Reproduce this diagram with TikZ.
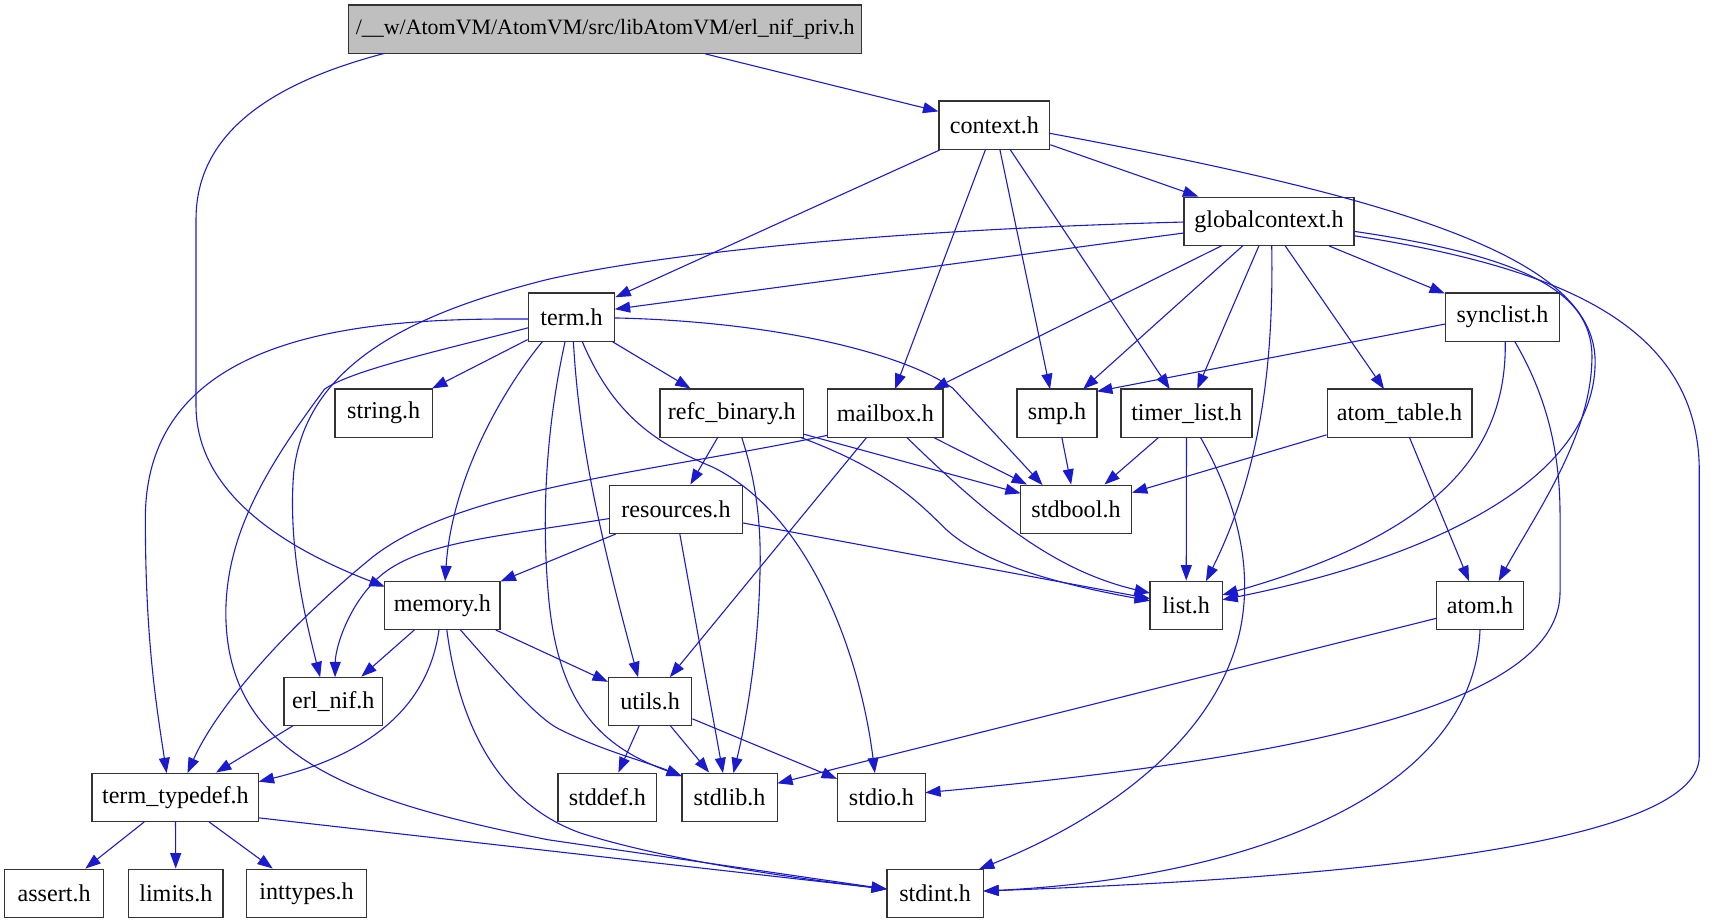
\documentclass[tikz,border=0pt]{standalone}
\usepackage{fontspec}
\setmainfont{Liberation Serif}
\usetikzlibrary{arrows.meta,calc}
\definecolor{edgeblue}{RGB}{26,26,206}
\definecolor{rootgray}{RGB}{191,191,191}
\begin{document}
\begin{tikzpicture}[x=0.5pt,y=-0.5pt,
  hbox/.style={draw=black!80, line width=0.55pt, fill=white, rectangle, minimum height=22pt, inner sep=0pt, font=\fontsize{11}{13}\selectfont},
  dep/.style={draw=edgeblue, line width=0.5pt, -{Triangle[length=7pt,width=5pt]}}]
\useasboundingbox (0,0) rectangle (1568,842);
% nodes
\node[hbox, fill=rootgray, minimum width=234pt, font=\fontsize{10}{12}\selectfont] (root) at (552,26.6) {/\_\_w/AtomVM/AtomVM/src/libAtomVM/erl\_nif\_priv.h};
\node[hbox, minimum width=50.5pt] (context) at (907,114.2) {context.h};
\node[hbox, minimum width=77.5pt] (gc) at (1157.5,201.8) {globalcontext.h};
\node[hbox, minimum width=39.5pt] (term) at (521.3,289.3) {term.h};
\node[hbox, minimum width=52pt] (synclist) at (1370.5,289.3) {synclist.h};
\node[hbox, minimum width=44.5pt] (string) at (350,376.9) {string.h};
\node[hbox, minimum width=65.5pt] (refc) at (667.5,376.9) {refc\_binary.h};
\node[hbox, minimum width=52.5pt] (mailbox) at (807.6,376.9) {mailbox.h};
\node[hbox, minimum width=36.5pt] (smp) at (964.2,376.9) {smp.h};
\node[hbox, minimum width=59.75pt] (timer) at (1082.3,376.9) {timer\_list.h};
\node[hbox, minimum width=66pt] (atomtable) at (1276.6,376.9) {atom\_table.h};
\node[hbox, minimum width=61pt] (resources) at (616.6,464.5) {resources.h};
\node[hbox, minimum width=50.5pt] (stdbool) at (981.5,464.5) {stdbool.h};
\node[hbox, minimum width=52.5pt] (memory) at (403.5,552.1) {memory.h};
\node[hbox, minimum width=33pt] (list) at (1082,552.1) {list.h};
\node[hbox, minimum width=40pt] (atom) at (1350,552.1) {atom.h};
\node[hbox, minimum width=45pt] (erlnif) at (304,639.7) {erl\_nif.h};
\node[hbox, minimum width=38pt] (utils) at (593,639.7) {utils.h};
\node[hbox, minimum width=76pt] (typedef) at (160,727.2) {term\_typedef.h};
\node[hbox, minimum width=45pt] (stddef) at (554,727.2) {stddef.h};
\node[hbox, minimum width=43.5pt] (stdlib) at (665.5,727.2) {stdlib.h};
\node[hbox, minimum width=40pt] (stdio) at (804,727.2) {stdio.h};
\node[hbox, minimum width=45pt] (assert) at (49.4,814.8) {assert.h};
\node[hbox, minimum width=43pt] (limits) at (160.4,814.8) {limits.h};
\node[hbox, minimum width=54.5pt] (inttypes) at (279.6,814.8) {inttypes.h};
\node[hbox, minimum width=44pt] (stdint) at (853,814.8) {stdint.h};
% root
\draw[dep] (root) -- (context);
\draw[dep] ($(root)+(-201,22)$) .. controls (250,75) and (178.8,120) .. (178.8,200) -- (178.8,370) .. controls (178.8,450) and (260,500) .. ($(memory)+(-52.5,-17)$);
% context
\draw[dep] (context) -- (gc);
\draw[dep] (context) -- (term);
\draw[dep] ($(context)+(-8,22)$) -- ($(mailbox)+(8.8,-22)$);
\draw[dep] ($(context)+(5,22)$) -- ($(smp)+(-6.4,-22)$);
\draw[dep] ($(context)+(14.3,22)$) -- ($(timer)+(-15.3,-22)$);
\draw[dep] ($(context)+(50.5,7.4)$) .. controls (1300,185) and (1455,240) .. (1455,330) .. controls (1455,440) and (1300,510) .. ($(list)+(33,-5)$);
% globalcontext
\draw[dep] ($(gc)+(-77.5,10.7)$) -- ($(term)+(39.5,-7.3)$);
\draw[dep] ($(gc)+(-77.5,0.7)$) .. controls (800,210) and (600,232) .. (499,255) .. controls (380,285) and (280,330) .. (268,430) .. controls (262,500) and (280,570) .. ($(erlnif)+(-12,-22)$);
\draw[dep] ($(gc)+(-42.5,22)$) -- ($(mailbox)+(43.4,-22)$);
\draw[dep] ($(gc)+(-23.5,22)$) -- ($(smp)+(23.8,-22)$);
\draw[dep] ($(gc)+(-9,22)$) -- ($(timer)+(9.7,-22)$);
\draw[dep] ($(gc)+(2.5,22)$) .. controls (1162,330) and (1150,430) .. ($(list)+(18,-22)$);
\draw[dep] ($(gc)+(14.5,22)$) -- ($(atomtable)+(-14.1,-22)$);
\draw[dep] (gc) -- (synclist);
\draw[dep] ($(gc)+(77.5,9.2)$) .. controls (1400,235) and (1455,270) .. (1452,330) .. controls (1450,400) and (1400,470) .. ($(atom)+(17,-22)$);
\draw[dep] ($(gc)+(77.5,13.2)$) .. controls (1430,245) and (1550,300) .. (1550,430) -- (1550,690) .. controls (1550,785) and (1100,805) .. ($(stdint)+(44,-2)$);
% term
\draw[dep] (term) -- (string);
\draw[dep] (term) -- (refc);
\draw[dep] ($(term)+(-26.3,22)$) .. controls (455,360) and (412,440) .. ($(memory)+(2.5,-22)$);
\draw[dep] ($(term)+(39.5,0.7)$) .. controls (700,293) and (820,320) .. (869,354) -- ($(stdbool)+(-30.5,-22)$);
\draw[dep] ($(term)+(-39.5,1.7)$) .. controls (340,290) and (135,300) .. (132.6,470) .. controls (132.4,580) and (142,640) .. ($(typedef)+(-8,-22)$);
\draw[dep] ($(term)+(-39.5,9.7)$) .. controls (400,320) and (320,338) .. (296,355) .. controls (240,430) and (206,490) .. (206,560) .. controls (207,690) and (320,730) .. (500,766) -- ($(stdint)+(-44,-3.8)$);
\draw[dep] ($(term)+(1.7,22)$) .. controls (528,400) and (545,480) .. ($(utils)+(-11,-22)$);
\draw[dep] ($(term)+(-5.8,22)$) .. controls (498,390) and (494,470) .. (500,540) .. controls (508,640) and (545,680) .. ($(stdlib)+(-43.5,-19.2)$);
\draw[dep] ($(term)+(9.7,22)$) .. controls (560,380) and (600,405) .. (650,426) .. controls (740,470) and (785,600) .. ($(stdio)+(-6,-22)$);
% synclist
\draw[dep] ($(synclist)+(-52,6.2)$) -- ($(smp)+(36.5,-19.9)$);
\draw[dep] ($(synclist)+(2.5,22)$) .. controls (1375,420) and (1300,490) .. ($(list)+(33,-9.4)$);
\draw[dep] ($(synclist)+(11.1,22)$) .. controls (1410,360) and (1423,410) .. (1423,470) -- (1423,540) .. controls (1423,640) and (1200,690) .. ($(stdio)+(40,-4.2)$);
% refc_binary
\draw[dep] (refc) -- (resources);
\draw[dep] ($(refc)+(9,22)$) .. controls (690,440) and (695,480) .. (693,530) .. controls (691,600) and (680,660) .. ($(stdlib)+(3.5,-22)$);
\draw[dep] ($(refc)+(65.5,19.1)$) -- ($(stdbool)+(-50.5,-14.5)$);
\draw[dep] ($(refc)+(62.5,22)$) .. controls (800,425) and (830,450) .. (860,480) .. controls (890,510) and (950,530) .. ($(list)+(-33,-4.1)$);
% mailbox
\draw[dep] ($(mailbox)+(-52.5,20.1)$) .. controls (600,430) and (420,445) .. (340,508) .. controls (270,565) and (200,640) .. ($(typedef)+(11,-22)$);
\draw[dep] ($(mailbox)+(-17,22)$) -- ($(utils)+(18,-22)$);
\draw[dep] ($(mailbox)+(19.4,22)$) .. controls (900,470) and (960,520) .. ($(list)+(-33,-11.1)$);
\draw[dep] (mailbox) -- (stdbool);
% smp, timer_list, atom_table
\draw[dep] (smp) -- (stdbool);
\draw[dep] (timer) -- (stdbool);
\draw[dep] (timer) -- (list);
\draw[dep] ($(timer)+(12.7,22)$) .. controls (1135,470) and (1142,530) .. (1130,580) .. controls (1105,680) and (1000,750) .. ($(stdint)+(40,-22)$);
\draw[dep] (atomtable) -- (stdbool);
\draw[dep] ($(atomtable)+(9,22)$) -- ($(atom)+(-10,-22)$);
% resources
\draw[dep] (resources) -- (memory);
\draw[dep] ($(resources)+(-61,8.5)$) .. controls (450,490) and (380,495) .. (345,527) .. controls (318,552) and (306,590) .. ($(erlnif)+(1.6,-22)$);
\draw[dep] ($(resources)+(3.4,22)$) -- ($(stdlib)+(-6,-22)$);
\draw[dep] ($(resources)+(61,12.5)$) -- ($(list)+(-33,-6.1)$);
% memory
\draw[dep] (memory) -- (erlnif);
\draw[dep] ($(memory)+(-3,22)$) .. controls (390,650) and (330,690) .. ($(typedef)+(76,-14.2)$);
\draw[dep] (memory) -- (utils);
\draw[dep] ($(memory)+(16.1,22)$) .. controls (460,620) and (490,655) .. (510,665) .. controls (550,685) and (590,695) .. ($(stdlib)+(-43.5,-19.2)$);
\draw[dep] ($(memory)+(4,22)$) .. controls (420,670) and (460,735) .. (530,760) .. controls (600,782) and (700,798) .. ($(stdint)+(-44,-3.8)$);
% atom
\draw[dep] ($(atom)+(-40,11.9)$) -- ($(stdlib)+(43.5,-12.7)$);
\draw[dep] ($(atom)+(0,22)$) .. controls (1345,720) and (1150,800) .. ($(stdint)+(44,-2)$);
% others
\draw[dep] (erlnif) -- (typedef);
\draw[dep] (utils) -- (stddef);
\draw[dep] (utils) -- (stdlib);
\draw[dep] (utils) -- (stdio);
\draw[dep] (typedef) -- (assert);
\draw[dep] (typedef) -- (limits);
\draw[dep] (typedef) -- (inttypes);
\draw[dep] ($(typedef)+(76,18.8)$) -- ($(stdint)+(-44,-3.8)$);
\end{tikzpicture}
\end{document}
